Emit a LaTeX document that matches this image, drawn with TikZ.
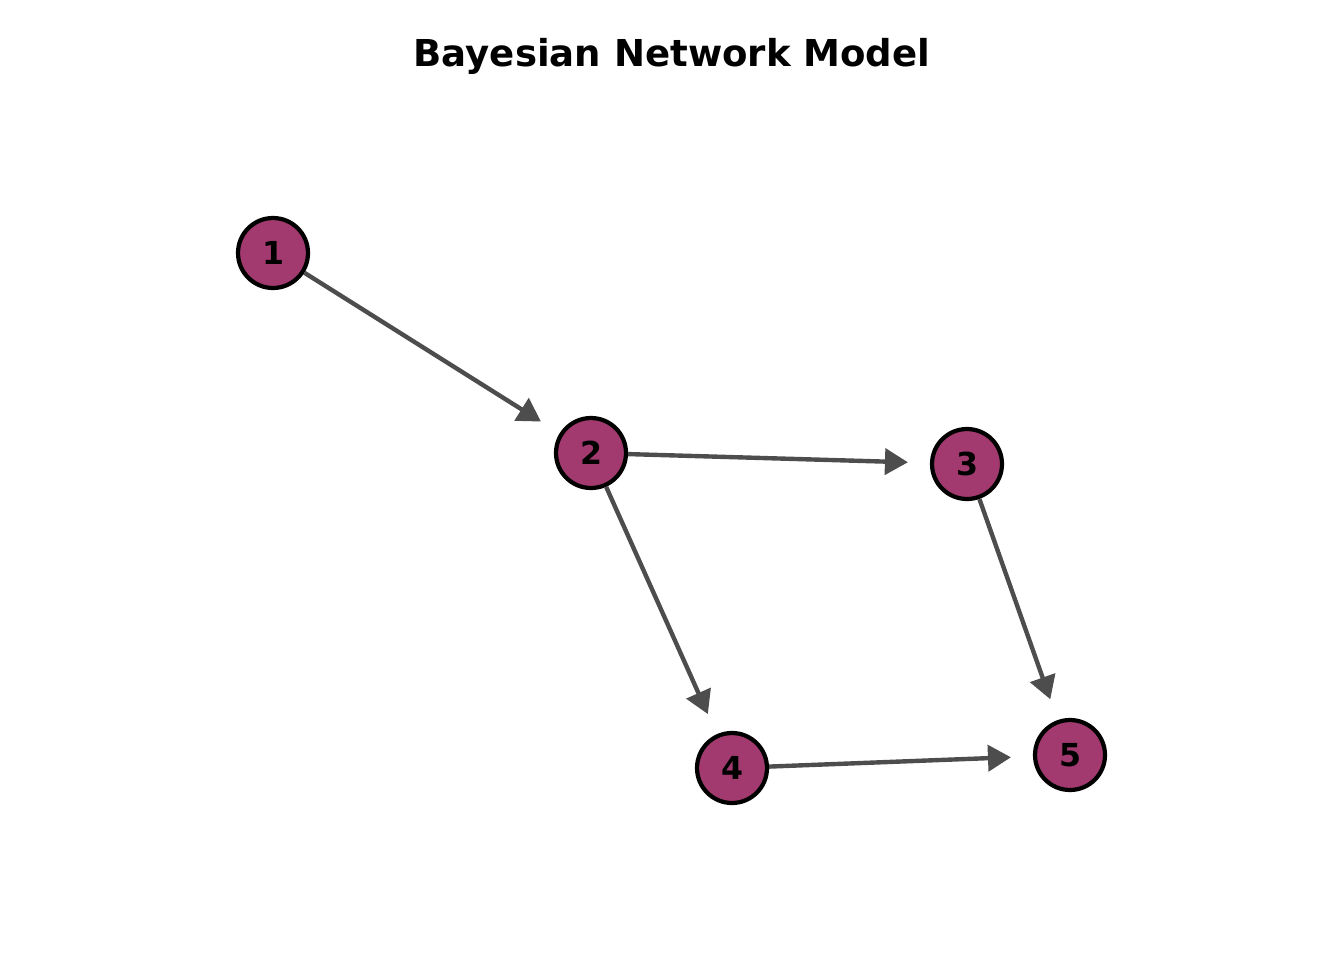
\documentclass[tikz,border=0pt]{standalone}
\usepackage{fontspec}
\setmainfont{DejaVu Sans}
\usepackage{tikz}
\usetikzlibrary{%
  arrows.meta,%
  calc%
}
\definecolor{nodefill}{HTML}{A23A70}
\definecolor{edgegray}{HTML}{4D4D4D}
\tikzset{>={Triangle[length=0.46cm,width=0.52cm]}}
\tikzset{
  bnnode/.style={circle,draw=black,line width=2.4pt,fill=nodefill,
    minimum size=1.4cm,inner sep=0pt,font=\fontsize{18}{21}\selectfont\bfseries},
  bnedge/.style={->,draw=edgegray,line width=2.5pt,shorten >=0.44cm}
}

\begin{document}
\begin{tikzpicture}[x=0.02cm,y=-0.02cm]
    \useasboundingbox (0,0) rectangle (1344,960);
    \node[font=\fontsize{21.1}{25}\selectfont\bfseries] (title) at (672,56)
    {Bayesian Network Model};
    % nodes
    \node[bnnode] (n1) at (273,253) {1};
    \node[bnnode] (n2) at (591,453) {2};
    \node[bnnode] (n3) at (967,464) {3};
    \node[bnnode] (n4) at (732,768) {4};
    \node[bnnode] (n5) at (1070,755) {5};
    % edges
    \draw[bnedge] (n1) -- (n2);
    \draw[bnedge] (n2) -- (n3);
    \draw[bnedge] (n2) -- (n4);
    \draw[bnedge] (n3) -- (n5);
    \draw[bnedge] (n4) -- (n5);
  \end{tikzpicture}
\end{document}
